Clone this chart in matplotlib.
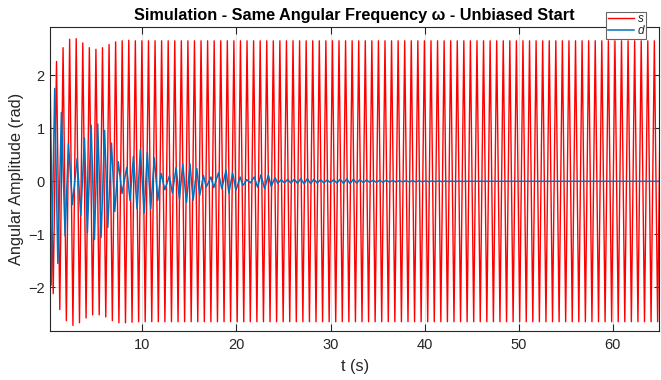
import numpy as np
import matplotlib
matplotlib.use("Agg")
import matplotlib.pyplot as plt

plt.rcParams['font.family'] = ['Liberation Sans', 'DejaVu Sans']

# s (red): value at the left edge, then the extrema, one every half period
S_START = (0.23, 1.70)
S_T0 = 0.54          # first trough (s)
T_HALF = 0.349       # half period read from the peak spacing (s)
s_extrema = [-2.12, 2.26, -2.42, 2.52, -2.63, 2.68, -2.72, 2.69, -2.67, 2.61,
             -2.58, 2.52, -2.52, 2.49, -2.52, 2.52, -2.56, 2.58, -2.63, 2.63,
             -2.67, 2.65, -2.67, 2.66, -2.66, 2.65] + [-2.65, 2.65] * 80

d_t = [0.23, 0.32, 0.70, 1.03, 1.41, 1.80, 2.16, 2.58, 3.08, 3.47,
       3.86, 4.17, 4.57, 4.92, 5.27, 5.63, 6.00, 6.34, 6.73, 7.08,
       7.45, 7.85, 8.35, 8.70, 9.06, 9.45, 9.80, 10.20, 10.54, 10.90,
       11.28, 11.65, 12.00, 12.40, 12.88, 13.20, 13.60, 13.95, 14.30, 14.70,
       15.07, 15.40, 15.80, 16.10, 16.50, 16.80, 17.30, 17.60, 18.10, 18.45,
       18.90, 19.20, 19.60, 19.95, 20.40, 20.70, 21.10, 21.50, 21.90, 22.25,
       22.60, 23.00, 23.40, 23.70, 24.10, 24.40]
d_v = [-0.60, -1.96, 1.75, -1.55, 1.30, -1.03, 0.71, -0.44, 0.43, -0.65,
       0.82, -0.97, 1.06, -1.10, 1.08, -1.06, 0.96, -0.87, 0.72, -0.57,
       0.37, -0.23, 0.26, -0.36, 0.47, -0.52, 0.60, -0.60, 0.55, -0.52,
       0.44, -0.36, 0.15, -0.16, 0.10, -0.22, 0.26, -0.34, 0.33, -0.40,
       0.33, -0.36, 0.24, -0.27, 0.11, -0.11, 0.08, -0.12, 0.16, -0.14,
       0.21, -0.22, 0.16, -0.17, 0.08, -0.08, 0.03, -0.03, 0.08, -0.11,
       0.12, -0.14, 0.12, -0.10, 0.07, -0.04]
# small ripple after 24.5 s, one value every half period
D_TAIL_T0 = 24.75
d_tail = [0.03, -0.03, 0.035, -0.035, 0.04, -0.04, 0.05, -0.05, 0.05, -0.045,
          0.04, -0.035, 0.03, -0.03, 0.025, -0.025, 0.03, -0.035, 0.04, -0.04,
          0.045, -0.045, 0.04, -0.035, 0.03, -0.025, 0.025, -0.02, 0.02, -0.02,
          0.02, -0.02, 0.02, -0.015, 0.015, -0.015, 0.012, -0.012, 0.012, -0.012,
          0.012, -0.012, 0.01, -0.01, 0.01, -0.01, 0.008, -0.008, 0.008, -0.008,
          0.006, -0.006, 0.005, -0.005, 0.003, -0.003, 0.0]
D_END = (65.0, 0.0)

assert len(d_t) == len(d_v)

s_t = [S_START[0]] + list(S_T0 + T_HALF * np.arange(len(s_extrema)))
s_v = [S_START[1]] + s_extrema
dt_all = d_t + list(D_TAIL_T0 + T_HALF * np.arange(len(d_tail))) + [D_END[0]]
dv_all = d_v + d_tail + [D_END[1]]

fig = plt.figure(figsize=(6.61, 3.80), dpi=100)
ax = fig.add_axes([50.3 / 661, 1 - 331 / 380, (659 - 50.3) / 661, (331 - 27.3) / 380])

ax.plot(s_t, s_v, color=(1, 0, 0), lw=1.0, label='s')
ax.plot(dt_all, dv_all, color=(0, 0.447, 0.741), lw=1.1, label='d')

ax.set_xlim(0.23, 64.9)
ax.set_ylim(-2.825, 2.905)
ax.set_xticks([10, 20, 30, 40, 50, 60])
ax.set_yticks([-2, -1, 0, 1, 2])

dark = (0.15, 0.15, 0.15)
for sp in ax.spines.values():
    sp.set_color(dark)
    sp.set_linewidth(0.8)
ax.tick_params(axis='both', direction='in', colors=dark, labelsize=10.5,
               top=True, right=True, width=0.8)
ax.tick_params(axis='x', length=5, pad=5)
ax.tick_params(axis='y', length=3.6, pad=4)
ax.grid(True, color=dark, alpha=0.15, lw=0.6)

ax.set_xlabel('t (s)', fontsize=11.8, color=dark, labelpad=5)
ax.set_ylabel('Angular Amplitude (rad)', fontsize=11.8, color=dark, labelpad=3)
ax.set_title('Simulation - Same Angular Frequency \u03c9 - Unbiased Start',
             fontsize=11.7, fontweight='bold', pad=5)

leg = ax.legend(loc='upper right', bbox_to_anchor=(646 / 661, 1 - 11.7 / 380),
                bbox_transform=fig.transFigure, borderaxespad=0, fontsize=8.5,
                handlelength=2.2, handletextpad=0.35, borderpad=0.15,
                labelspacing=0.0, fancybox=False, framealpha=1,
                edgecolor=(0.4, 0.4, 0.4))
for t in leg.get_texts():
    t.set_fontstyle('italic')
    t.set_color(dark)
leg.get_frame().set_linewidth(0.8)

fig.savefig('out.png', dpi=100)
